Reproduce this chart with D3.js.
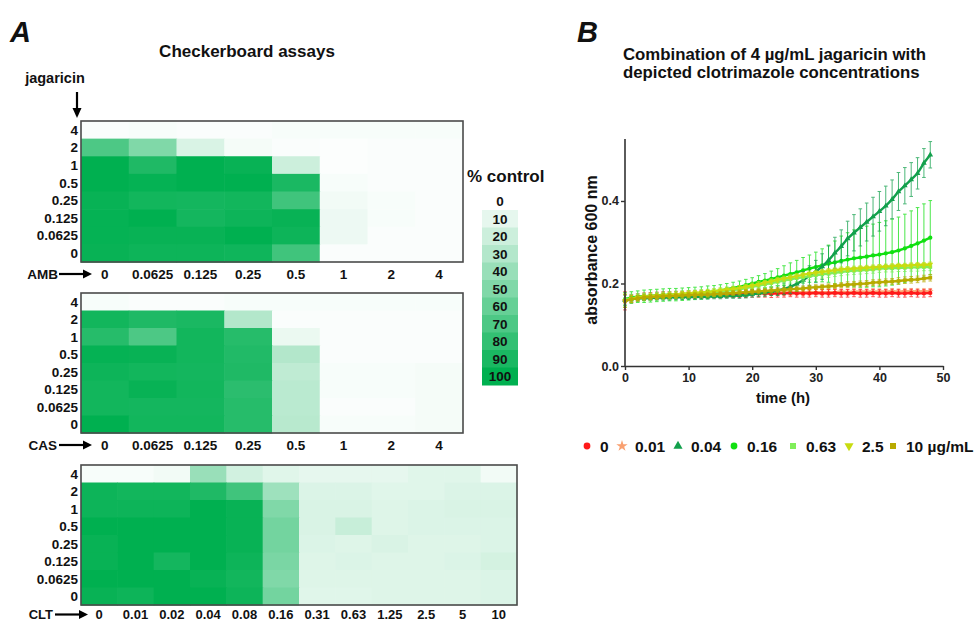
<!DOCTYPE html>
<html><head><meta charset="utf-8">
<script src="https://cdn.jsdelivr.net/npm/d3@7"></script>
<style>
body{margin:0;background:#fff}
svg{display:block;font-family:"Liberation Sans",Arial,Helvetica,sans-serif;font-weight:bold}
</style>
</head><body>
<svg id="c" width="976" height="623"></svg>
<script>
// ---------------- DATA ----------------
const jagaricinRows = ["4","2","1","0.5","0.25","0.125","0.0625","0"];
const ambCols = ["0","0.0625","0.125","0.25","0.5","1","2","4"];
const casCols = ["0","0.0625","0.125","0.25","0.5","1","2","4"];
const cltCols = ["0","0.01","0.02","0.04","0.08","0.16","0.31","0.63","1.25","2.5","5","10"];

// % of control, rows top->bottom (jagaricin 4 ... 0)
const ambValues = [
  [2,3,2,2,3,3,3,3],
  [70,50,15,4,2,1,2,2],
  [100,88,100,97,20,1,2,2],
  [100,98,100,100,90,3,2,2],
  [97,93,92,93,75,5,3,2],
  [98,100,92,95,97,7,3,2],
  [98,97,97,100,95,7,2,2],
  [97,95,95,94,75,2,2,2]
];
const casValues = [
  [3,2,2,3,3,3,3,3],
  [93,88,90,30,2,2,2,2],
  [85,70,93,85,8,2,2,2],
  [98,97,93,87,30,2,2,2],
  [95,93,92,88,25,3,3,4],
  [93,97,93,83,27,3,3,4],
  [93,92,92,85,27,2,2,4],
  [100,93,93,85,28,3,3,4]
];
const cltValues = [
  [3,3,5,40,18,12,10,10,10,12,12,5],
  [95,93,93,88,75,38,14,14,12,12,14,14],
  [95,95,95,100,97,50,15,15,13,14,15,15],
  [100,100,100,100,97,55,15,22,13,14,14,14],
  [97,100,100,100,97,55,14,13,15,13,13,14],
  [97,100,92,100,95,52,13,14,13,13,14,17],
  [100,100,100,97,93,50,13,13,13,13,13,14],
  [97,95,100,100,95,55,12,12,13,13,13,14]
];
const legendSteps = [0,10,20,30,40,50,60,70,80,90,100];

// Panel B: growth curves
const timeHours = [0,1,2,3,4,5,6,7,8,9,10,11,12,13,14,15,16,17,18,19,20,21,22,23,24,25,26,27,28,29,30,31,32,33,34,35,36,37,38,39,40,41,42,43,44,45,46,47,48];
const cltLabels = ["0","0.01","0.04","0.16","0.63","2.5","10 µg/mL"];

const od_0 = [0.158,0.163,0.166,0.168,0.169,0.170,0.171,0.171,0.172,0.172,
  0.173,0.173,0.173,0.174,0.174,0.174,0.175,0.175,0.175,0.175,
  0.176,0.176,0.176,0.175,0.176,0.176,0.177,0.176,0.176,0.176,
  0.177,0.176,0.176,0.177,0.176,0.176,0.177,0.176,0.176,0.177,
  0.176,0.176,0.177,0.176,0.176,0.177,0.176,0.176,0.177];
const sd_0 = [0.022,0.010,0.009,0.009,0.009,0.009,0.009,0.009,0.009,0.009,
  0.009,0.009,0.009,0.009,0.009,0.009,0.009,0.009,0.009,0.009,
  0.009,0.009,0.009,0.009,0.009,0.009,0.009,0.009,0.009,0.009,
  0.009,0.009,0.009,0.009,0.009,0.009,0.009,0.009,0.009,0.009,
  0.009,0.009,0.009,0.009,0.009,0.009,0.009,0.009,0.009];

const od_001 = [0.157,0.162,0.165,0.167,0.169,0.170,0.171,0.172,0.172,0.173,
  0.174,0.174,0.175,0.175,0.175,0.176,0.176,0.176,0.177,0.177,
  0.177,0.177,0.178,0.178,0.178,0.178,0.178,0.179,0.178,0.179,
  0.179,0.179,0.179,0.179,0.180,0.179,0.180,0.180,0.180,0.180,
  0.180,0.180,0.181,0.180,0.181,0.181,0.181,0.181,0.181];
const sd_001 = [0.015,0.008,0.007,0.007,0.007,0.007,0.007,0.007,0.007,0.007,
  0.007,0.007,0.007,0.007,0.007,0.007,0.007,0.007,0.007,0.007,
  0.007,0.007,0.007,0.007,0.007,0.007,0.007,0.007,0.007,0.007,
  0.007,0.007,0.007,0.007,0.007,0.007,0.007,0.007,0.007,0.007,
  0.007,0.007,0.007,0.007,0.007,0.007,0.007,0.007,0.007];

const od_004 = [0.160,0.163,0.164,0.165,0.165,0.166,0.166,0.166,0.167,0.167,
  0.167,0.168,0.168,0.168,0.169,0.169,0.170,0.170,0.171,0.172,
  0.174,0.176,0.178,0.181,0.183,0.187,0.192,0.199,0.208,0.219,
  0.229,0.241,0.256,0.274,0.290,0.309,0.323,0.336,0.349,0.362,
  0.375,0.388,0.404,0.423,0.437,0.452,0.467,0.492,0.512];
const sd_004 = [0.012,0.007,0.006,0.006,0.006,0.006,0.006,0.006,0.006,0.006,
  0.006,0.006,0.006,0.006,0.006,0.006,0.006,0.006,0.007,0.007,
  0.007,0.008,0.009,0.010,0.012,0.014,0.016,0.018,0.021,0.024,
  0.027,0.031,0.035,0.038,0.040,0.042,0.044,0.045,0.046,0.047,
  0.048,0.048,0.047,0.046,0.044,0.041,0.038,0.035,0.032];

const od_016 = [0.162,0.166,0.168,0.169,0.170,0.171,0.172,0.173,0.173,0.174,
  0.175,0.176,0.177,0.179,0.181,0.183,0.186,0.189,0.192,0.196,
  0.200,0.204,0.207,0.211,0.215,0.219,0.223,0.227,0.232,0.236,
  0.240,0.244,0.248,0.251,0.255,0.258,0.261,0.263,0.265,0.268,
  0.270,0.273,0.276,0.280,0.285,0.291,0.297,0.304,0.311];
const sd_016 = [0.016,0.014,0.014,0.015,0.015,0.015,0.015,0.015,0.015,0.015,
  0.015,0.015,0.015,0.015,0.014,0.014,0.014,0.014,0.014,0.014,
  0.014,0.015,0.017,0.019,0.021,0.024,0.027,0.029,0.031,0.033,
  0.036,0.040,0.045,0.052,0.060,0.065,0.069,0.072,0.074,0.076,
  0.078,0.079,0.080,0.081,0.083,0.085,0.087,0.089,0.090];

const od_063 = [0.160,0.164,0.166,0.167,0.168,0.169,0.170,0.171,0.172,0.173,
  0.174,0.175,0.176,0.177,0.178,0.180,0.182,0.184,0.186,0.189,
  0.192,0.195,0.198,0.201,0.204,0.207,0.210,0.213,0.215,0.218,
  0.220,0.222,0.224,0.226,0.228,0.230,0.231,0.232,0.233,0.234,
  0.236,0.237,0.237,0.238,0.238,0.239,0.239,0.240,0.240];
const sd_063 = [0.014,0.010,0.009,0.009,0.009,0.009,0.009,0.009,0.009,0.009,
  0.009,0.009,0.009,0.009,0.009,0.009,0.009,0.009,0.009,0.009,
  0.009,0.009,0.009,0.009,0.009,0.009,0.009,0.009,0.009,0.009,
  0.009,0.009,0.009,0.009,0.009,0.009,0.009,0.009,0.009,0.009,
  0.009,0.009,0.009,0.009,0.009,0.009,0.009,0.009,0.009];

const od_25 = [0.158,0.163,0.166,0.168,0.169,0.170,0.171,0.172,0.173,0.175,
  0.176,0.177,0.178,0.179,0.181,0.183,0.185,0.187,0.189,0.192,
  0.195,0.198,0.202,0.205,0.209,0.212,0.215,0.218,0.221,0.224,
  0.226,0.228,0.230,0.232,0.234,0.235,0.236,0.237,0.238,0.239,
  0.240,0.241,0.242,0.243,0.243,0.244,0.245,0.245,0.246];
const sd_25 = [0.016,0.008,0.006,0.006,0.006,0.006,0.006,0.006,0.006,0.006,
  0.006,0.006,0.006,0.006,0.006,0.006,0.006,0.006,0.006,0.006,
  0.006,0.006,0.006,0.006,0.006,0.006,0.006,0.006,0.006,0.006,
  0.006,0.006,0.006,0.006,0.006,0.006,0.006,0.006,0.006,0.006,
  0.006,0.006,0.006,0.006,0.006,0.006,0.006,0.006,0.006];

const od_10 = [0.158,0.162,0.164,0.166,0.167,0.168,0.169,0.170,0.170,0.171,
  0.172,0.172,0.173,0.173,0.174,0.175,0.176,0.177,0.178,0.179,
  0.180,0.181,0.182,0.183,0.184,0.185,0.186,0.187,0.188,0.190,
  0.191,0.192,0.193,0.194,0.196,0.197,0.198,0.199,0.200,0.202,
  0.203,0.204,0.205,0.206,0.208,0.209,0.210,0.212,0.214];
const sd_10 = [0.016,0.008,0.006,0.006,0.006,0.006,0.006,0.006,0.006,0.006,
  0.006,0.006,0.006,0.006,0.006,0.006,0.006,0.006,0.006,0.006,
  0.006,0.006,0.006,0.006,0.006,0.006,0.006,0.006,0.006,0.006,
  0.006,0.006,0.006,0.006,0.006,0.007,0.007,0.007,0.007,0.007,
  0.007,0.007,0.007,0.008,0.008,0.008,0.008,0.008,0.008];

// ---------------- DRAW ----------------
const svg = d3.select("#c");
const green = d3.scaleLinear().domain([0,100]).range(["#ffffff","#00b050"]).interpolate(d3.interpolateRgb);

function arrowRight(g, x1, x2, y){
  g.append("line").attr("x1",x1).attr("x2",x2-7).attr("y1",y).attr("y2",y)
    .attr("stroke","#000").attr("stroke-width",2.2);
  g.append("path").attr("d",`M${x2},${y}L${x2-9},${y-4.5}L${x2-9},${y+4.5}Z`).attr("fill","#000");
}

function heatmap(cols, values, drug, L){
  const g = svg.append("g");
  const x = d3.scaleBand().domain(cols).range([L.x0, L.x1]);
  const y = d3.scaleBand().domain(jagaricinRows).range([L.y0, L.y1]);
  jagaricinRows.forEach((r,i)=>{
    cols.forEach((c,j)=>{
      g.append("rect").attr("x",x(c)).attr("y",y(r))
        .attr("width",x.bandwidth()+0.6).attr("height",y.bandwidth()+0.6)
        .attr("fill",green(values[i][j]));
    });
  });
  g.append("rect").attr("x",L.x0).attr("y",L.y0).attr("width",L.x1-L.x0).attr("height",L.y1-L.y0)
    .attr("fill","none").attr("stroke","#4a4a4a").attr("stroke-width",1.6);
  g.selectAll("text.r").data(jagaricinRows).join("text")
    .attr("x",L.x0-3).attr("y",d=>y(d)+y.bandwidth()/2).attr("dy","0.36em")
    .attr("text-anchor","end").attr("font-size",13.5).attr("fill","#111").text(d=>d);
  g.selectAll("text.c").data(cols).join("text")
    .attr("x",d=>x(d)+x.bandwidth()/2).attr("y",L.ly).attr("dy","0.36em")
    .attr("text-anchor","middle").attr("font-size",L.fs).attr("fill","#111").text(d=>d);
  g.append("text").attr("x",L.tx).attr("y",L.ly).attr("dy","0.36em").attr("text-anchor","end")
    .attr("font-size",L.fs).attr("fill","#111").text(drug);
  arrowRight(g, L.ax0, L.ax1, L.ly);
}

// Panel A headings
svg.append("text").attr("x",10).attr("y",42).attr("font-size",29).attr("font-style","italic").attr("fill","#111").text("A");
svg.append("text").attr("x",247).attr("y",57).attr("text-anchor","middle").attr("font-size",17).attr("fill","#111").text("Checkerboard assays");
svg.append("text").attr("x",55).attr("y",83).attr("text-anchor","middle").attr("font-size",14.5).attr("fill","#111").text("jagaricin");
svg.append("line").attr("x1",77).attr("x2",77).attr("y1",92).attr("y2",110).attr("stroke","#000").attr("stroke-width",2.2);
svg.append("path").attr("d","M77,118L72.5,108L81.5,108Z").attr("fill","#000");

heatmap(ambCols, ambValues, "AMB", {x0:81,x1:463,y0:121,y1:262,ly:274,tx:58,ax0:59,ax1:92,fs:13.5});
heatmap(casCols, casValues, "CAS", {x0:81,x1:463,y0:293,y1:433,ly:445,tx:57,ax0:59,ax1:92,fs:13.5});
heatmap(cltCols, cltValues, "CLT", {x0:81,x1:517,y0:465,y1:605,ly:614.5,tx:53,ax0:55,ax1:88,fs:13});

// colour legend
svg.append("text").attr("x",467).attr("y",182).attr("font-size",17).attr("fill","#111").text("% control");
const ly = d3.scaleBand().domain(legendSteps).range([192.5,385]);
svg.selectAll("rect.leg").data(legendSteps.filter(d=>d>0)).join("rect")
  .attr("x",482).attr("width",36).attr("y",d=>ly(d)).attr("height",ly.bandwidth()+0.5)
  .attr("fill",d=>green(d));
svg.selectAll("text.leg").data(legendSteps).join("text")
  .attr("x",500).attr("y",d=>ly(d)+ly.bandwidth()/2).attr("dy","0.36em").attr("text-anchor","middle")
  .attr("font-size",13.5).attr("fill","#111").text(d=>d);

// Panel B
svg.append("text").attr("x",577).attr("y",42).attr("font-size",29).attr("font-style","italic").attr("fill","#111").text("B");
svg.append("text").attr("x",623).attr("y",60).attr("font-size",16.8).attr("fill","#111").text("Combination of 4 µg/mL jagaricin with");
svg.append("text").attr("x",623).attr("y",78).attr("font-size",16.8).attr("fill","#111").text("depicted clotrimazole concentrations");

const xs = d3.scaleLinear().domain([0,50]).range([625,943]);
const ys = d3.scaleLinear().domain([0,0.55]).range([366,139.1]);

const series = [
  {label:cltLabels[0], m:od_0,   s:sd_0,   c:"#ff1a1a", sym:d3.symbolCircle,   rot:0},
  {label:cltLabels[1], m:od_001, s:sd_001, c:"#f9a070", sym:d3.symbolStar,     rot:0},
  {label:cltLabels[2], m:od_004, s:sd_004, c:"#12a04c", sym:d3.symbolTriangle, rot:0},
  {label:cltLabels[3], m:od_016, s:sd_016, c:"#10e010", sym:d3.symbolCircle,   rot:0},
  {label:cltLabels[4], m:od_063, s:sd_063, c:"#80ee5a", sym:d3.symbolSquare,   rot:0},
  {label:cltLabels[5], m:od_25,  s:sd_25,  c:"#c8dc10", sym:d3.symbolTriangle, rot:180},
  {label:cltLabels[6], m:od_10,  s:sd_10,  c:"#b8aa00", sym:d3.symbolSquare,   rot:0}
];
const drawOrder = [1,0,3,2,4,5,6];
const plot = svg.append("g");
drawOrder.forEach(k=>{
  const S = series[k];
  const g = plot.append("g");
  const pts = timeHours.map((t,i)=>({t, m:S.m[i], s:S.s[i]}));
  const eb = g.append("g").attr("stroke",S.c).attr("stroke-width",1).attr("opacity",0.75);
  pts.forEach(p=>{
    const x = xs(p.t), y1 = ys(p.m+p.s), y2 = ys(p.m-p.s);
    eb.append("line").attr("x1",x).attr("x2",x).attr("y1",y1).attr("y2",y2);
    eb.append("line").attr("x1",x-1.8).attr("x2",x+1.8).attr("y1",y1).attr("y2",y1);
    eb.append("line").attr("x1",x-1.8).attr("x2",x+1.8).attr("y1",y2).attr("y2",y2);
  });
  g.append("path").datum(pts).attr("fill","none").attr("stroke",S.c).attr("stroke-width",2.4)
    .attr("d",d3.line().x(p=>xs(p.t)).y(p=>ys(p.m)));
  g.selectAll("path.pt").data(pts).join("path")
    .attr("transform",p=>`translate(${xs(p.t)},${ys(p.m)}) rotate(${S.rot})`)
    .attr("d",d3.symbol().type(S.sym).size(14)).attr("fill",S.c);
});

const xAxis = svg.append("g").attr("transform","translate(0,366)")
  .call(d3.axisBottom(xs).tickValues([0,10,20,30,40,50]).tickSize(4).tickSizeOuter(0).tickFormat(d3.format("d")));
const yAxis = svg.append("g").attr("transform","translate(625,0)")
  .call(d3.axisLeft(ys).tickValues([0,0.2,0.4]).tickSize(4).tickSizeOuter(0).tickPadding(2).tickFormat(d3.format(".1f")));
[xAxis,yAxis].forEach(a=>{
  a.select(".domain").attr("stroke","#333").attr("stroke-width",1.6);
  a.selectAll(".tick line").attr("stroke","#333").attr("stroke-width",1.4);
  a.selectAll(".tick text").attr("font-family","Liberation Sans, Arial, sans-serif")
    .attr("font-weight","bold").attr("font-size",12.5).attr("fill","#222");
});
yAxis.select(".domain").attr("d","M0,366V139.1");
svg.append("text").attr("x",783).attr("y",403).attr("text-anchor","middle").attr("font-size",15).attr("fill","#111").text("time (h)");
svg.append("text").attr("transform","translate(597,250) rotate(-90)").attr("text-anchor","middle")
  .attr("font-size",16).attr("fill","#111").text("absorbance 600 nm");

// legend B
const legX = [587,622,678,734,793,849,893];
const legG = svg.append("g");
series.forEach((S,i)=>{
  legG.append("path").attr("transform",`translate(${legX[i]},446) rotate(${S.rot})`)
    .attr("d",d3.symbol().type(S.sym).size(S.sym===d3.symbolStar?40:36)).attr("fill",S.c);
  legG.append("text").attr("x",legX[i]+13).attr("y",446).attr("dy","0.36em").attr("font-size",15.5)
    .attr("fill","#111").text(S.label);
});
</script>
</body></html>
